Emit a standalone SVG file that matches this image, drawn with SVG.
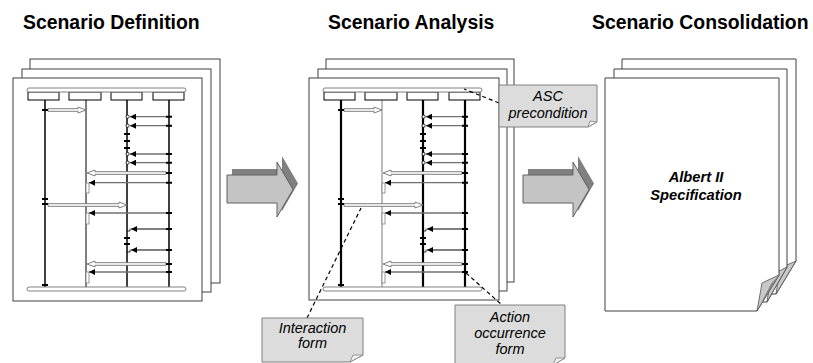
<svg xmlns="http://www.w3.org/2000/svg" xmlns:xlink="http://www.w3.org/1999/xlink" width="813" height="363" viewBox="0 0 813 363">
<style>
.title{font-family:"Liberation Sans",Arial,sans-serif;font-weight:bold;font-size:19.4px;fill:#000}
.note{font-family:"Liberation Sans",Arial,sans-serif;font-style:italic;font-size:14.5px;fill:#000;text-anchor:middle}
.spec{font-family:"Liberation Sans",Arial,sans-serif;font-style:italic;font-weight:bold;font-size:14.7px;fill:#000;text-anchor:middle}
.page{fill:#fff;stroke:#404040;stroke-width:1}
.curl{fill:#c8c8c8;stroke:#505050;stroke-width:0.8}
.curlDark{fill:#808080;stroke:none}
.bar{fill:#fff;stroke:#808080;stroke-width:1}
.obj{fill:#fff;stroke:#000;stroke-width:1}
.ll{stroke:#000;stroke-width:1.5}
.llThin{stroke:#000;stroke-width:1}
.llBold{stroke:#000;stroke-width:2.2}
.llGray{stroke:#909090;stroke-width:1.2}
.ho{fill:#fff;stroke:#707070;stroke-width:0.9}
.msg{stroke:#707070;stroke-width:1.3;marker-end:url(#bh)}
.msgK{stroke:#000;stroke-width:1;marker-end:url(#bh)}
.tick{stroke:#000;stroke-width:2}
.act{fill:#fff;stroke:#808080;stroke-width:0.8}
.rcv{fill:#fff;stroke:#000;stroke-width:0.8}
.callout{fill:#dcdcdc;stroke:#808080;stroke-width:1}
.fold{fill:#f2f2f2;stroke:#808080;stroke-width:0.8}
.dash{fill:none;stroke:#000;stroke-width:1.2;stroke-dasharray:4 3}
.bigShadow{fill:#808080;stroke:none}
.big{fill:#c4c4c4;stroke:#606060;stroke-width:1}
</style>
<defs>
<marker id="bh" markerUnits="userSpaceOnUse" markerWidth="7" markerHeight="6" refX="6" refY="3" orient="auto">
<path d="M0,0 L6,3 L0,6 Z" fill="#000"/>
</marker>
<g id="seqCommon">
<rect class="obj" x="28" y="92" width="31" height="8"/>
<rect class="obj" x="69" y="92" width="32" height="8"/>
<rect class="obj" x="111" y="92" width="31" height="8"/>
<rect class="obj" x="153" y="92" width="31" height="8"/>
<rect class="bar" x="27" y="88" width="159" height="4" rx="2"/>
<rect class="bar" x="27" y="287" width="159" height="4" rx="2"/>
<rect class="act" x="86" y="183" width="3" height="10"/>
<rect class="act" x="86" y="213" width="3" height="11"/>
<rect class="act" x="86" y="272" width="3" height="11"/>
<polygon class="ho" points="48,108.7 78,108.7 78,107 86,110 78,113 78,111.3 48,111.3"/>
<polygon class="ho" points="166,171.7 95,171.7 95,170 87,173 95,176 95,174.3 166,174.3"/>
<polygon class="ho" points="48,203.7 119,203.7 119,202 127,205 119,208 119,206.3 48,206.3"/>
<polygon class="ho" points="166,262.7 95,262.7 95,261 87,264 95,267 95,265.3 166,265.3"/>
<line class="msg" x1="169" y1="116.7" x2="130" y2="116.7"/>
<line class="msg" x1="169" y1="125.7" x2="130" y2="125.7"/>
<line class="msg" x1="169" y1="154" x2="130" y2="154"/>
<line class="msg" x1="169" y1="162.7" x2="130" y2="162.7"/>
<line class="msg" x1="169" y1="182.7" x2="89" y2="182.7"/>
<line class="msg" x1="169" y1="213" x2="89" y2="213"/>
<line class="msgK" x1="169" y1="229" x2="131" y2="229"/>
<line class="msgK" x1="169" y1="250" x2="131" y2="250"/>
<line class="msg" x1="169" y1="272" x2="89" y2="272"/>
<circle class="rcv" cx="127.6" cy="116.7" r="1.6"/>
<circle class="rcv" cx="127.6" cy="125.7" r="1.6"/>
<circle class="rcv" cx="127.6" cy="154" r="1.6"/>
<circle class="rcv" cx="127.6" cy="162.7" r="1.6"/>
<path d="M127,231 H130 V228.5 M127,252 H130 V249.5" fill="none" stroke="#000" stroke-width="0.8"/>
<path class="tick" d="M166,116.7 H172 M166,125.7 H172 M166,154 H172 M166,162.7 H172 M166,173 H172 M166,182.7 H172 M166,213 H172 M166,229 H172 M166,250 H172 M166,264 H172 M166,272 H172"/>
<path class="tick" d="M42,110 H48 M42,199 H48 M42,204 H48 M42,285 H48"/>
<path class="tick" d="M124,134 H130 M124,141 H130 M124,148 H130 M124,238 H130 M124,244 H130"/>
</g>
<polygon id="bigArrow" points="227,175 277,175 277,162 293,189.5 277,217 277,203 227,203"/>
</defs>

<g id="titles">
<text class="title" x="23" y="29">Scenario Definition</text>
<text class="title" x="328" y="29">Scenario Analysis</text>
<text class="title" x="592" y="29">Scenario Consolidation</text>
</g>

<g id="scenario-definition">
<rect class="page" x="30" y="59" width="190" height="224"/>
<rect class="page" x="22" y="69" width="189" height="223"/>
<rect class="page" x="13" y="78" width="189" height="223"/>
<line class="ll" x1="45" y1="100" x2="45" y2="287"/>
<line class="llThin" x1="86" y1="100" x2="86" y2="287"/>
<line class="ll" x1="127" y1="100" x2="127" y2="287"/>
<line class="ll" x1="169" y1="100" x2="169" y2="287"/>
<use xlink:href="#seqCommon" href="#seqCommon"/>
</g>

<g id="scenario-analysis">
<rect class="page" x="326" y="59" width="188" height="223"/>
<rect class="page" x="318" y="69" width="189" height="222"/>
<rect class="page" x="309" y="78" width="190" height="222"/>
<g transform="translate(296,0)">
<line class="llBold" x1="45" y1="100" x2="45" y2="287"/>
<line class="llGray" x1="86" y1="100" x2="86" y2="287"/>
<line class="llBold" x1="127" y1="100" x2="127" y2="287"/>
<line class="llBold" x1="169" y1="100" x2="169" y2="287"/>
<use xlink:href="#seqCommon" href="#seqCommon"/>
</g>
</g>

<g id="scenario-consolidation">
<polygon class="page" points="622,59 796,59 796,261 776,294 622,294"/>
<polygon class="curl" points="796,261 780,268 776,294"/>
<polygon class="page" points="614,69 787,69 787,267 767,302 614,302"/>
<polygon class="curl" points="787,267 771,275 767,302"/>
<polygon class="page" points="605,78 779,78 779,275 757,311 605,311"/>
<polygon class="curl" points="779,275 762,283 757,311"/>
<polygon class="curlDark" points="779,275 771,284 757,311"/>
<text class="spec" x="696" y="182">Albert II</text>
<text class="spec" x="696" y="200">Specification</text>
</g>

<g id="step-arrows">
<use xlink:href="#bigArrow" href="#bigArrow" class="bigShadow" transform="translate(5,-6)"/>
<use xlink:href="#bigArrow" href="#bigArrow" class="big"/>
<use xlink:href="#bigArrow" href="#bigArrow" class="bigShadow" transform="translate(301,-6)"/>
<use xlink:href="#bigArrow" href="#bigArrow" class="big" transform="translate(296,0)"/>
</g>

<g id="connectors">
<line class="dash" x1="499" y1="103" x2="464" y2="89"/>
<line class="dash" x1="307" y1="318" x2="361" y2="208"/>
<line class="dash" x1="466" y1="273" x2="502" y2="305"/>
</g>

<g id="asc-precondition">
<path class="callout" d="M499,85 H597 V122 L588,127 H499 Z"/>
<polygon class="fold" points="597,122 588,127 590,121"/>
<text class="note" x="548" y="101">ASC</text>
<text class="note" x="548" y="118">precondition</text>
</g>

<g id="interaction-form">
<path class="callout" d="M262,318 H363 V355 L350,362 H262 Z"/>
<polygon class="fold" points="363,355 350,362 353,355"/>
<text class="note" x="312.5" y="333">Interaction</text>
<text class="note" x="312.5" y="348">form</text>
</g>

<g id="action-occurrence-form">
<path class="callout" d="M455,305 H565 V358 L553,365 H455 Z"/>
<polygon class="fold" points="565,358 553,365 556,358"/>
<text class="note" x="510" y="322">Action</text>
<text class="note" x="510" y="338">occurrence</text>
<text class="note" x="510" y="354">form</text>
</g>
</svg>
